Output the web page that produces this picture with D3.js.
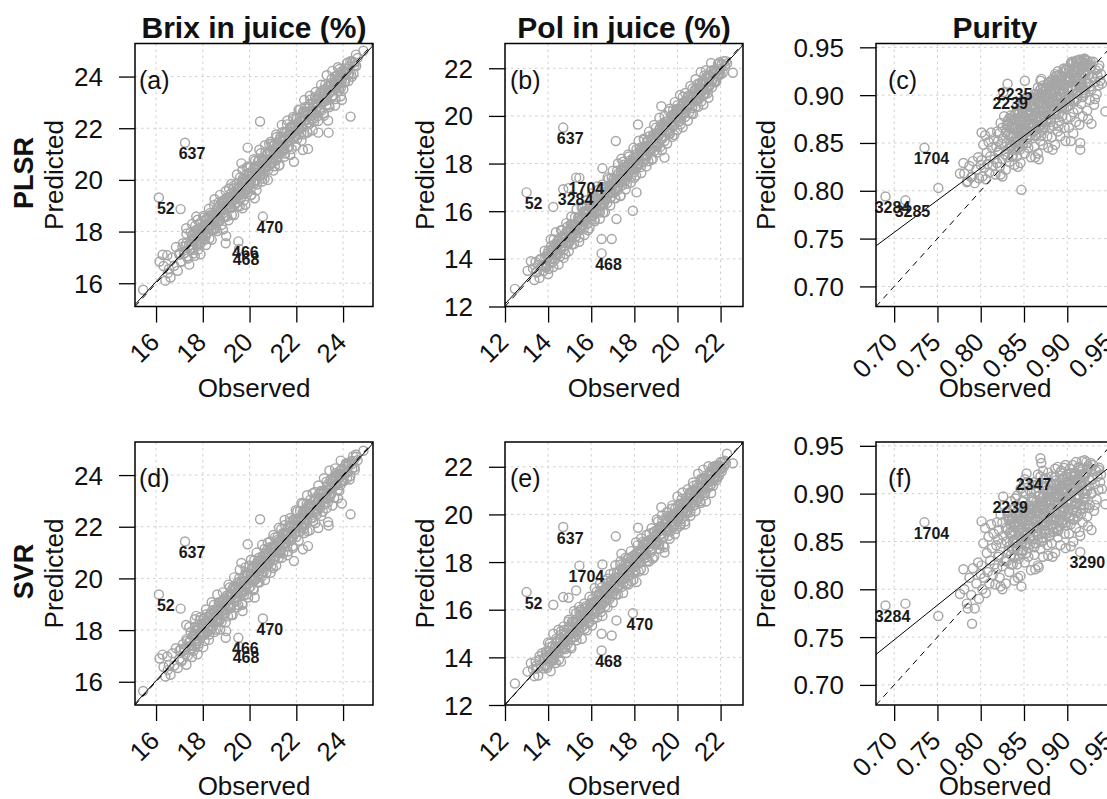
<!DOCTYPE html>
<html>
<head>
<meta charset="utf-8">
<script src="https://cdn.jsdelivr.net/npm/d3@7"></script>
<style>
  body { margin: 0; background: #fff; }
  svg text { font-family: "Liberation Sans", Arial, Helvetica, sans-serif; }
</style>
</head>
<body>
<svg id="fig" width="1107" height="799"></svg>
<script>
// ---------------------------------------------------------------
// Observed vs predicted juice quality, PLSR (top row) and SVR (bottom row)
// ---------------------------------------------------------------

const propertyNames = ["Brix in juice (%)", "Pol in juice (%)", "Purity"];
const modelNames = ["PLSR", "SVR"];
const panelTags = [["(a)", "(b)", "(c)"], ["(d)", "(e)", "(f)"]];

// axis limits and tick values
const brixLimits = [15.1, 25.28];
const polLimits = [12.0, 23.04];
const purityLimits = [0.679, 0.954];
const brixTicks = [16, 18, 20, 22, 24];
const polTicks = [12, 14, 16, 18, 20, 22];
const purityTicks = [0.70, 0.75, 0.80, 0.85, 0.90, 0.95];

// fitted regression lines (intercept, slope) per property: [Brix, Pol, Purity]
const plsrFitIntercepts = [0.30, 0.28, 0.2861];
const plsrFitSlopes = [0.985, 0.985, 0.672];
const svrFitIntercepts = [0.20, 0.08, 0.2389];
const svrFitSlopes = [0.99, 0.995, 0.726];

// ---------------- Brix ----------------
// the first entries are the named samples
const brixIds = ["637", "52", "470", "466", "468"];
const brixShown = ["637", "52", "470", "466", "468"];
const brixObserved = [
  17.24,16.12,20.57,19.52,19.55,
  20.45,19.92,24.32,23.38,22.94,22.28,22.50,23.36,15.45,24.87,20.22,19.70,17.72,17.05,17.29,19.65,16.28,16.50,16.15,19.00,18.98,21.90,23.95,24.55,
  16.32,16.40,16.48,16.55,16.62,16.70,16.78,16.85,16.93,17.00,17.08,17.15,17.22,17.30,17.36,17.42,17.48,17.52,
  17.56,17.60,17.64,17.68,17.72,17.76,17.80,17.84,17.88,17.92,17.96,18.00,18.04,18.08,18.12,18.16,18.20,18.24,18.28,18.32,18.36,18.40,18.44,18.48,18.52,18.56,18.60,18.64,18.68,18.72,18.76,18.80,18.84,18.88,18.92,18.96,
  19.00,19.04,19.08,19.12,19.16,19.20,19.24,19.28,19.32,19.36,
  19.40,19.44,19.48,19.52,19.56,19.60,19.64,19.68,19.72,19.76,
  19.80,19.84,19.88,19.92,19.96,20.00,20.04,20.08,20.12,20.16,
  20.20,20.24,20.28,20.32,20.36,20.40,20.44,20.48,20.52,20.56,
  20.60,20.64,20.68,20.72,20.76,20.80,20.84,20.88,20.92,20.96,
  21.00,21.04,21.08,21.12,21.16,21.20,21.24,21.28,21.32,21.36,
  21.40,21.44,21.48,21.52,21.56,21.60,21.64,21.68,21.72,21.76,
  21.80,21.84,21.88,21.92,21.96,22.00,22.04,22.08,22.12,22.16,
  22.20,22.24,22.28,22.32,22.36,22.40,22.44,22.48,22.52,22.56,
  22.60,22.64,22.68,22.72,22.76,22.80,22.84,22.88,22.92,22.96,
  23.02,23.07,23.13,23.18,23.24,23.29,23.35,23.40,23.46,23.51,23.57,23.62,23.68,23.73,23.79,23.84,23.90,23.95,24.01,24.06,24.12,24.17,24.23,24.28,24.34,24.39,24.45,24.50,24.56,24.62,
  17.53,17.59,17.65,17.71,17.77,17.83,17.89,17.95,18.01,
  18.07,18.13,18.19,18.25,18.31,18.37,18.43,18.49,18.55,
  18.61,18.67,18.73,18.79,18.85,18.91,18.97,19.03,19.09,
  19.15,19.21,19.27,19.33,19.39,19.45,19.51,19.57,19.63,
  19.69,19.75,19.81,19.87,19.93,19.99,20.05,20.11,20.17,
  20.23,20.29,20.35,20.41,20.47,20.53,20.59,20.65,20.71,
  20.77,20.83,20.89,20.95,21.01,21.07,21.13,21.19,21.25,
  21.31,21.37,21.43,21.49,21.55,21.61,21.67,21.73,21.79,
  21.85,21.91,21.97,22.03,22.09,22.15,22.21,22.27,22.33,
  22.39,22.45,22.51,22.57,22.63,22.69,22.75,22.81,22.87,
  22.93,22.99,23.05,23.11,23.17,23.23,23.29,23.35,23.41,
  23.47,23.53,23.59,23.65,23.71,23.77,23.83,23.89,23.95,
  24.01,24.07,24.13,24.19,24.25,24.31,24.37,24.43,24.49,
  17.000,17.065,17.130,17.195,17.260,17.325,17.390,17.455,
  17.520,17.585,17.650,17.715,17.780,17.845,17.910,17.975,
  18.040,18.105,18.170,18.235,18.300,18.365,18.430,18.495,
  18.560,18.625,18.690,18.755,18.820,18.885,18.950,19.015,
  19.080,19.145,19.210,19.275,19.340,19.405,19.470,19.535,
  19.600,19.665,19.730,19.795,19.860,19.925,19.990,20.055,
  20.120,20.185,20.250,20.315,20.380,20.445,20.510,20.575,
  20.640,20.705,20.770,20.835,20.900,20.965,21.030,21.095,
  21.160,21.225,21.290,21.355,21.420,21.485,21.550,21.615,
  21.680,21.745,21.810,21.875,21.940,22.005,22.070,22.135,
  22.200,22.265,22.330,22.395,22.460,22.525,22.590,22.655,
  22.720,22.785,22.850,22.915,22.980,23.045,23.110,23.175,
  23.240,23.305,23.370,23.435,23.500,23.565,23.630,23.695,
  23.760,23.825,23.890,23.955,24.020,24.085,24.150,24.215,
  17.30,17.42,17.54,17.66,17.78,17.90,18.02,18.14,
  18.26,18.38,18.50,18.62,18.74,18.86,18.98,19.10,
  19.22,19.34,19.46,19.58,19.70,19.82,19.94,20.06,
  20.18,20.30,20.42,20.54,20.66,20.78,20.90,21.02,
  21.14,21.26,21.38,21.50,21.62,21.74,21.86,21.98,
  22.10,22.22,22.34,22.46,22.58,22.70,22.82,22.94,
  23.06,23.18,23.30,23.42,23.54,23.66,23.78,23.90
];
const brixPlsr = [
  21.44,19.32,18.58,17.62,17.33,
  22.26,21.25,22.45,21.83,21.83,21.16,21.20,22.30,15.75,25.00,19.29,18.90,18.58,18.87,18.13,20.64,17.10,16.39,16.84,17.83,17.55,20.70,23.10,24.85,
  16.67,16.10,17.08,16.55,16.22,17.00,16.68,17.40,16.48,17.15,16.83,17.55,17.17,17.55,16.96,17.47,17.98,17.32,
  17.86,17.15,17.69,18.23,17.52,18.01,17.30,17.94,18.33,17.62,18.16,17.95,18.54,17.68,18.27,18.51,17.95,18.24,17.73,18.72,18.26,18.65,18.09,19.03,18.57,18.11,18.90,18.49,19.13,18.42,18.86,18.25,19.19,18.83,19.12,18.56,
  19.30,18.59,19.13,19.67,18.96,19.45,18.64,19.38,19.77,19.06,
  19.35,19.84,18.98,19.72,19.41,20.10,19.29,19.68,20.07,19.21,
  19.95,19.59,20.48,19.52,20.26,19.90,20.49,19.43,20.17,20.41,
  19.85,20.74,20.23,19.82,20.71,20.50,20.19,21.03,20.07,20.76,
  20.60,20.04,21.08,20.57,21.01,20.40,21.39,20.83,20.62,21.41,
  20.80,21.34,20.53,21.27,21.66,20.85,21.29,20.58,21.67,21.26,
  21.85,21.14,21.58,21.02,21.81,22.15,21.49,21.28,21.72,22.06,
  21.20,22.04,22.38,21.67,21.91,22.40,21.59,22.23,21.77,22.71,
  22.25,22.04,22.63,21.77,22.81,22.30,22.64,21.83,22.82,22.16,
  23.10,22.34,22.68,22.97,22.26,23.20,22.69,22.98,22.47,23.26,
  23.37,22.67,23.23,22.58,23.69,23.14,23.60,22.90,23.46,23.91,23.27,23.77,23.13,24.03,23.69,24.29,23.55,24.00,23.51,24.31,23.92,24.52,23.83,24.38,24.09,24.59,24.10,24.55,24.41,24.72,
  17.73,17.29,17.70,18.06,17.62,18.11,17.51,18.07,17.96,
  18.27,17.83,18.24,18.60,18.16,18.65,18.05,18.61,18.50,
  18.81,18.37,18.78,19.14,18.70,19.19,18.59,19.15,19.04,
  19.35,18.91,19.32,19.68,19.24,19.73,19.13,19.69,19.58,
  19.89,19.45,19.86,20.22,19.78,20.27,19.67,20.23,20.12,
  20.43,19.99,20.40,20.76,20.32,20.81,20.21,20.77,20.66,
  20.97,20.53,20.94,21.30,20.86,21.35,20.75,21.31,21.20,
  21.51,21.07,21.48,21.84,21.40,21.89,21.29,21.85,21.74,
  22.05,21.61,22.02,22.38,21.94,22.43,21.83,22.39,22.28,
  22.59,22.15,22.56,22.92,22.48,22.97,22.37,22.93,22.82,
  23.13,22.69,23.10,23.46,23.02,23.51,22.91,23.47,23.36,
  23.67,23.23,23.64,24.00,23.56,24.05,23.45,24.01,23.90,
  24.21,23.77,24.18,24.54,24.10,24.59,23.99,24.55,24.44,
  17.100,16.845,17.410,17.145,17.440,17.025,17.410,17.315,
  17.620,17.365,17.930,17.665,17.960,17.545,17.930,17.835,
  18.140,17.885,18.450,18.185,18.480,18.065,18.450,18.355,
  18.660,18.405,18.970,18.705,19.000,18.585,18.970,18.875,
  19.180,18.925,19.490,19.225,19.520,19.105,19.490,19.395,
  19.700,19.445,20.010,19.745,20.040,19.625,20.010,19.915,
  20.220,19.965,20.530,20.265,20.560,20.145,20.530,20.435,
  20.740,20.485,21.050,20.785,21.080,20.665,21.050,20.955,
  21.260,21.005,21.570,21.305,21.600,21.185,21.570,21.475,
  21.780,21.525,22.090,21.825,22.120,21.705,22.090,21.995,
  22.300,22.045,22.610,22.345,22.640,22.225,22.610,22.515,
  22.820,22.565,23.130,22.865,23.160,22.745,23.130,23.035,
  23.340,23.085,23.650,23.385,23.680,23.265,23.650,23.555,
  23.860,23.605,24.170,23.905,24.200,23.785,24.170,24.075,
  17.92,16.72,18.29,17.06,18.46,17.12,18.60,17.48,
  18.88,17.68,19.25,18.02,19.42,18.08,19.56,18.44,
  19.84,18.64,20.21,18.98,20.38,19.04,20.52,19.40,
  20.80,19.60,21.17,19.94,21.34,20.00,21.48,20.36,
  21.76,20.56,22.13,20.90,22.30,20.96,22.44,21.32,
  22.72,21.52,23.09,21.86,23.26,21.92,23.40,22.28,
  23.68,22.48,24.05,22.82,24.22,22.88,24.36,23.24
];
const brixSvr = [
  21.43,19.38,18.45,17.70,17.36,
  22.29,21.32,22.48,22.05,21.95,21.13,21.25,22.18,15.64,24.94,19.26,18.74,18.55,18.83,18.20,20.60,17.05,16.45,16.90,17.96,17.70,20.67,22.90,24.80,
  16.57,16.20,16.98,16.65,16.27,17.10,16.63,17.30,16.53,17.20,16.78,17.45,17.22,17.65,17.01,17.52,17.93,17.27,
  17.76,17.20,17.79,18.13,17.47,18.11,17.35,17.84,18.38,17.72,18.21,17.90,18.44,17.58,18.32,18.61,18.05,18.29,17.83,18.62,18.16,18.75,18.14,18.98,18.52,18.01,18.80,18.59,19.08,18.37,18.91,18.30,19.14,18.78,19.22,18.66,
  18.80,19.34,18.53,19.27,19.66,18.85,19.29,18.58,19.67,19.26,
  19.45,19.24,19.83,18.97,20.01,19.50,19.84,19.03,20.02,19.36,
  19.75,20.24,19.38,20.12,19.81,20.50,19.69,20.08,20.47,19.61,
  20.70,19.94,20.28,20.57,19.86,20.80,20.29,20.58,20.07,20.86,
  20.25,21.14,20.63,20.22,21.11,20.90,20.59,21.43,20.47,21.16,
  20.40,21.24,21.58,20.87,21.11,21.60,20.79,21.43,20.97,21.91,
  21.70,20.99,21.53,22.07,21.36,21.85,21.04,21.78,22.17,21.46,
  21.80,21.24,22.28,21.77,22.21,21.60,22.59,22.03,21.82,22.61,
  22.35,21.99,22.88,21.92,22.66,22.30,22.89,21.83,22.57,22.81,
  23.05,22.34,22.78,22.22,23.01,23.35,22.69,22.48,22.92,23.26,
  22.72,23.37,22.58,23.33,23.14,23.74,22.95,23.45,23.81,23.31,23.77,23.12,24.08,23.68,24.04,23.39,24.00,24.25,23.76,24.01,24.42,23.87,24.38,23.83,24.54,24.24,24.55,24.20,24.71,24.57,
  17.28,17.74,17.98,17.63,17.99,17.48,17.94,18.25,17.83,
  17.82,18.28,18.52,18.17,18.53,18.02,18.48,18.79,18.37,
  18.36,18.82,19.06,18.71,19.07,18.56,19.02,19.33,18.91,
  18.90,19.36,19.60,19.25,19.61,19.10,19.56,19.87,19.45,
  19.44,19.90,20.14,19.79,20.15,19.64,20.10,20.41,19.99,
  19.98,20.44,20.68,20.33,20.69,20.18,20.64,20.95,20.53,
  20.52,20.98,21.22,20.87,21.23,20.72,21.18,21.49,21.07,
  21.06,21.52,21.76,21.41,21.77,21.26,21.72,22.03,21.61,
  21.60,22.06,22.30,21.95,22.31,21.80,22.26,22.57,22.15,
  22.14,22.60,22.84,22.49,22.85,22.34,22.80,23.11,22.69,
  22.68,23.14,23.38,23.03,23.39,22.88,23.34,23.65,23.23,
  23.22,23.68,23.92,23.57,23.93,23.42,23.88,24.19,23.77,
  23.76,24.22,24.46,24.11,24.47,23.96,24.42,24.73,24.30,
  16.880,17.265,16.850,17.255,17.060,17.585,17.370,17.585,
  17.400,17.785,17.370,17.775,17.580,18.105,17.890,18.105,
  17.920,18.305,17.890,18.295,18.100,18.625,18.410,18.625,
  18.440,18.825,18.410,18.815,18.620,19.145,18.930,19.145,
  18.960,19.345,18.930,19.335,19.140,19.665,19.450,19.665,
  19.480,19.865,19.450,19.855,19.660,20.185,19.970,20.185,
  20.000,20.385,19.970,20.375,20.180,20.705,20.490,20.705,
  20.520,20.905,20.490,20.895,20.700,21.225,21.010,21.225,
  21.040,21.425,21.010,21.415,21.220,21.745,21.530,21.745,
  21.560,21.945,21.530,21.935,21.740,22.265,22.050,22.265,
  22.080,22.465,22.050,22.455,22.260,22.785,22.570,22.785,
  22.600,22.985,22.570,22.975,22.780,23.305,23.090,23.305,
  23.120,23.505,23.090,23.495,23.300,23.825,23.610,23.825,
  23.640,24.025,23.610,24.015,23.820,24.345,24.130,24.345,
  16.66,18.12,16.96,18.42,17.06,18.50,17.34,18.80,
  17.62,19.08,17.92,19.38,18.02,19.46,18.30,19.76,
  18.58,20.04,18.88,20.34,18.98,20.42,19.26,20.72,
  19.54,21.00,19.84,21.30,19.94,21.38,20.22,21.68,
  20.50,21.96,20.80,22.26,20.90,22.34,21.18,22.64,
  21.46,22.92,21.76,23.22,21.86,23.30,22.14,23.60,
  22.42,23.88,22.72,24.18,22.82,24.26,23.10,24.56
];

// ---------------- Pol ----------------
const polIds = ["637", "52", "1704", "3284", "468", "470"];
const polPlsrShown = ["637", "52", "1704", "3284", "468"];
const polSvrShown = ["637", "52", "1704", "470", "468"];
const polObserved = [
  14.70,13.00,15.45,14.95,16.48,17.93,
  14.24,14.70,15.30,16.48,16.95,17.17,18.10,16.52,17.40,17.14,18.17,19.25,22.57,22.30,12.46,13.05,13.20,13.45,13.60,19.40,
  13.30,13.36,13.42,13.48,13.54,13.60,13.66,13.72,13.78,13.84,13.90,13.96,14.02,14.08,14.14,14.20,14.26,14.32,14.38,14.44,
  14.50,14.55,14.60,14.65,14.70,14.75,14.80,14.85,14.90,14.95,
  15.00,15.05,15.10,15.15,15.20,15.25,15.30,15.35,15.40,15.45,
  15.50,15.55,15.60,15.65,15.70,15.75,15.80,15.85,15.90,15.95,
  16.00,16.05,16.10,16.15,16.20,16.25,16.30,16.35,16.40,16.45,
  16.50,16.55,16.60,16.65,16.70,16.75,16.80,16.85,16.90,16.95,
  17.00,17.05,17.10,17.15,17.20,17.25,17.30,17.35,17.40,17.45,
  17.50,17.55,17.60,17.65,17.70,17.75,17.80,17.85,17.90,17.95,
  18.00,18.05,18.10,18.15,18.20,18.25,18.30,18.35,18.40,18.45,
  18.50,18.55,18.60,18.65,18.70,18.75,18.80,18.85,18.90,18.95,
  19.00,19.05,19.10,19.15,19.20,19.25,19.30,19.35,19.40,19.45,
  19.50,19.55,19.60,19.65,19.70,19.75,19.80,19.85,19.90,19.95,
  20.00,20.05,20.10,20.15,20.20,20.25,20.30,20.35,20.40,20.45,
  20.50,20.55,20.60,20.65,20.70,20.75,20.80,20.85,20.90,20.95,21.00,21.05,21.10,21.15,21.20,21.25,21.30,21.35,21.40,21.45,21.50,21.55,21.60,21.65,21.70,21.75,21.80,21.85,21.90,21.95,22.00,22.05,22.10,22.15,22.20,22.25,
  13.90,13.96,14.02,14.08,14.14,14.20,14.26,14.32,14.38,
  14.44,14.50,14.56,14.62,14.68,14.74,14.80,14.86,14.92,
  14.98,15.04,15.10,15.16,15.22,15.28,15.34,15.40,15.46,
  15.52,15.58,15.64,15.70,15.76,15.82,15.88,15.94,16.00,
  16.06,16.12,16.18,16.24,16.30,16.36,16.42,16.48,16.54,
  16.60,16.66,16.72,16.78,16.84,16.90,16.96,17.02,17.08,
  17.14,17.20,17.26,17.32,17.38,17.44,17.50,17.56,17.62,
  17.68,17.74,17.80,17.86,17.92,17.98,18.04,18.10,18.16,
  18.22,18.28,18.34,18.40,18.46,18.52,18.58,18.64,18.70,
  18.76,18.82,18.88,18.94,19.00,19.06,19.12,19.18,19.24,
  19.30,19.36,19.42,19.48,19.54,19.60,19.66,19.72,19.78,
  19.84,19.90,19.96,20.02,20.08,20.14,20.20,20.26,20.32,
  20.38,20.44,20.50,20.56,20.62,20.68,20.74,20.80,20.86,
  20.92,20.98,21.04,21.10,21.16,21.22,21.28,21.34,21.40,
  21.46,21.52,21.58,21.64,21.70,21.76,21.82,21.88,21.94,
  13.800,13.865,13.930,13.995,14.060,14.125,14.190,14.255,
  14.320,14.385,14.450,14.515,14.580,14.645,14.710,14.775,
  14.840,14.905,14.970,15.035,15.100,15.165,15.230,15.295,
  15.360,15.425,15.490,15.555,15.620,15.685,15.750,15.815,
  15.880,15.945,16.010,16.075,16.140,16.205,16.270,16.335,
  16.400,16.465,16.530,16.595,16.660,16.725,16.790,16.855,
  16.920,16.985,17.050,17.115,17.180,17.245,17.310,17.375,
  17.440,17.505,17.570,17.635,17.700,17.765,17.830,17.895,
  17.960,18.025,18.090,18.155,18.220,18.285,18.350,18.415,
  18.480,18.545,18.610,18.675,18.740,18.805,18.870,18.935,
  19.000,19.065,19.130,19.195,19.260,19.325,19.390,19.455,
  19.520,19.585,19.650,19.715,19.780,19.845,19.910,19.975,
  20.040,20.105,20.170,20.235,20.300,20.365,20.430,20.495,
  20.560,20.625,20.690,20.755,20.820,20.885,20.950,21.015,
  21.080,21.145,21.210,21.275,21.340,21.405,21.470,21.535,
  21.600,21.665,21.730,21.795,21.860,21.925,21.990,22.055,
  14.00,14.12,14.24,14.36,14.48,14.60,14.72,14.84,
  14.96,15.08,15.20,15.32,15.44,15.56,15.68,15.80,
  15.92,16.04,16.16,16.28,16.40,16.52,16.64,16.76,
  16.88,17.00,17.12,17.24,17.36,17.48,17.60,17.72,
  17.84,17.96,18.08,18.20,18.32,18.44,18.56,18.68,
  18.80,18.92,19.04,19.16,19.28,19.40,19.52,19.64,
  19.76,19.88,20.00,20.12,20.24,20.36,20.48,20.60,
  20.72,20.84,20.96,21.08,21.20,21.32,21.44,21.56
];
const polPlsr = [
  19.51,16.79,17.40,16.97,14.23,16.02,
  16.18,16.92,17.41,14.83,14.83,15.67,16.79,17.80,18.20,18.95,19.64,20.41,21.81,22.20,12.74,13.50,13.90,13.45,13.95,18.25,
  13.60,13.11,13.87,13.43,13.74,13.20,14.01,13.72,13.48,14.34,13.75,14.21,13.57,14.18,14.54,14.00,14.81,13.97,14.43,14.74,
  14.80,14.10,14.65,15.20,14.50,15.00,14.20,14.95,15.35,14.65,
  14.95,15.45,14.60,15.35,15.05,15.75,14.95,15.35,15.75,14.90,
  15.65,15.30,16.20,15.25,16.00,15.65,16.25,15.20,15.95,16.20,
  15.65,16.55,16.05,15.65,16.55,16.35,16.05,16.90,15.95,16.65,
  16.50,15.95,17.00,16.50,16.95,16.35,17.35,16.80,16.60,17.40,
  16.80,17.35,16.55,17.30,17.70,16.90,17.35,16.65,17.75,17.35,
  17.95,17.25,17.70,17.15,17.95,18.30,17.65,17.45,17.90,18.25,
  17.40,18.25,18.60,17.90,18.15,18.65,17.85,18.50,18.05,19.00,
  18.55,18.35,18.95,18.10,19.15,18.65,19.00,18.20,19.20,18.55,
  19.50,18.75,19.10,19.40,18.70,19.65,19.15,19.45,18.95,19.75,
  19.65,19.30,20.20,19.25,20.00,19.65,20.25,19.20,19.95,20.20,
  20.45,19.75,20.20,19.65,20.45,20.80,20.15,19.95,20.40,20.75,
  20.85,20.15,20.70,20.10,21.15,20.60,21.05,20.40,20.90,21.35,20.70,21.20,20.60,21.45,21.10,21.70,20.95,21.40,20.95,21.70,21.30,21.90,21.20,21.75,21.45,21.95,21.45,21.90,21.75,22.25,21.75,22.15,21.80,22.30,22.10,22.30,
  13.65,14.11,14.35,14.00,14.36,13.85,14.31,14.62,14.20,
  14.19,14.65,14.89,14.54,14.90,14.39,14.85,15.16,14.74,
  14.73,15.19,15.43,15.08,15.44,14.93,15.39,15.70,15.28,
  15.27,15.73,15.97,15.62,15.98,15.47,15.93,16.24,15.82,
  15.81,16.27,16.51,16.16,16.52,16.01,16.47,16.78,16.36,
  16.35,16.81,17.05,16.70,17.06,16.55,17.01,17.32,16.90,
  16.89,17.35,17.59,17.24,17.60,17.09,17.55,17.86,17.44,
  17.43,17.89,18.13,17.78,18.14,17.63,18.09,18.40,17.98,
  17.97,18.43,18.67,18.32,18.68,18.17,18.63,18.94,18.52,
  18.51,18.97,19.21,18.86,19.22,18.71,19.17,19.48,19.06,
  19.05,19.51,19.75,19.40,19.76,19.25,19.71,20.02,19.60,
  19.59,20.05,20.29,19.94,20.30,19.79,20.25,20.56,20.14,
  20.13,20.59,20.83,20.48,20.84,20.33,20.79,21.10,20.68,
  20.67,21.13,21.37,21.02,21.38,20.87,21.33,21.64,21.22,
  21.21,21.67,21.91,21.56,21.92,21.41,21.87,22.18,21.76,
  13.680,14.065,13.650,14.055,13.860,14.385,14.170,14.385,
  14.200,14.585,14.170,14.575,14.380,14.905,14.690,14.905,
  14.720,15.105,14.690,15.095,14.900,15.425,15.210,15.425,
  15.240,15.625,15.210,15.615,15.420,15.945,15.730,15.945,
  15.760,16.145,15.730,16.135,15.940,16.465,16.250,16.465,
  16.280,16.665,16.250,16.655,16.460,16.985,16.770,16.985,
  16.800,17.185,16.770,17.175,16.980,17.505,17.290,17.505,
  17.320,17.705,17.290,17.695,17.500,18.025,17.810,18.025,
  17.840,18.225,17.810,18.215,18.020,18.545,18.330,18.545,
  18.360,18.745,18.330,18.735,18.540,19.065,18.850,19.065,
  18.880,19.265,18.850,19.255,19.060,19.585,19.370,19.585,
  19.400,19.785,19.370,19.775,19.580,20.105,19.890,20.105,
  19.920,20.305,19.890,20.295,20.100,20.625,20.410,20.625,
  20.440,20.825,20.410,20.815,20.620,21.145,20.930,21.145,
  20.960,21.345,20.930,21.335,21.140,21.665,21.450,21.665,
  21.480,21.865,21.450,21.855,21.660,22.185,21.970,22.185,
  13.36,14.82,13.66,15.12,13.76,15.20,14.04,15.50,
  14.32,15.78,14.62,16.08,14.72,16.16,15.00,16.46,
  15.28,16.74,15.58,17.04,15.68,17.12,15.96,17.42,
  16.24,17.70,16.54,18.00,16.64,18.08,16.92,18.38,
  17.20,18.66,17.50,18.96,17.60,19.04,17.88,19.34,
  18.16,19.62,18.46,19.92,18.56,20.00,18.84,20.30,
  19.12,20.58,19.42,20.88,19.52,20.96,19.80,21.26,
  20.08,21.54,20.38,21.84,20.48,21.92,20.76,22.22
];
const polSvr = [
  19.47,16.74,17.85,16.50,14.29,15.85,
  16.21,16.53,16.81,14.99,14.92,15.55,17.16,17.90,18.35,19.08,19.44,20.30,22.15,22.55,12.90,13.40,13.75,13.65,14.05,18.40,
  13.50,13.21,13.82,13.53,13.24,13.90,13.61,14.17,13.53,13.99,14.25,13.56,14.02,14.58,13.94,14.45,13.91,14.42,14.78,14.34,
  13.90,14.75,15.10,14.40,14.65,15.15,14.35,15.00,14.55,15.50,
  15.00,14.45,15.50,15.00,15.45,14.85,15.85,15.30,15.10,15.90,
  16.00,15.25,15.60,15.90,15.20,16.15,15.65,15.95,15.45,16.25,
  15.95,16.45,15.60,16.35,16.05,16.75,15.95,16.35,16.75,15.90,
  16.95,16.25,16.70,16.15,16.95,17.30,16.65,16.45,16.90,17.25,
  16.65,17.55,17.05,16.65,17.55,17.35,17.05,17.90,16.95,17.65,
  17.55,17.35,17.95,17.10,18.15,17.65,18.00,17.20,18.20,17.55,
  18.30,17.60,18.15,18.70,18.00,18.50,17.70,18.45,18.85,18.15,
  18.30,18.85,18.05,18.80,19.20,18.40,18.85,18.15,19.25,18.85,
  19.15,18.80,19.70,18.75,19.50,19.15,19.75,18.70,19.45,19.70,
  19.45,19.95,19.10,19.85,19.55,20.25,19.45,19.85,20.25,19.40,
  20.05,19.85,20.45,19.60,20.65,20.15,20.50,19.70,20.70,20.05,
  20.20,20.85,20.10,20.80,20.60,21.20,20.40,20.90,21.25,20.75,21.20,20.55,21.50,21.10,21.45,20.80,21.40,21.65,21.15,21.40,21.80,21.25,21.75,21.20,21.90,21.60,21.90,21.55,22.05,21.90,22.20,21.80,22.20,22.00,22.25,22.15,
  14.10,13.66,14.07,14.43,13.99,14.48,13.88,14.44,14.33,
  14.64,14.20,14.61,14.97,14.53,15.02,14.42,14.98,14.87,
  15.18,14.74,15.15,15.51,15.07,15.56,14.96,15.52,15.41,
  15.72,15.28,15.69,16.05,15.61,16.10,15.50,16.06,15.95,
  16.26,15.82,16.23,16.59,16.15,16.64,16.04,16.60,16.49,
  16.80,16.36,16.77,17.13,16.69,17.18,16.58,17.14,17.03,
  17.34,16.90,17.31,17.67,17.23,17.72,17.12,17.68,17.57,
  17.88,17.44,17.85,18.21,17.77,18.26,17.66,18.22,18.11,
  18.42,17.98,18.39,18.75,18.31,18.80,18.20,18.76,18.65,
  18.96,18.52,18.93,19.29,18.85,19.34,18.74,19.30,19.19,
  19.50,19.06,19.47,19.83,19.39,19.88,19.28,19.84,19.73,
  20.04,19.60,20.01,20.37,19.93,20.42,19.82,20.38,20.27,
  20.58,20.14,20.55,20.91,20.47,20.96,20.36,20.92,20.81,
  21.12,20.68,21.09,21.45,21.01,21.50,20.90,21.46,21.35,
  21.66,21.22,21.63,21.99,21.55,22.04,21.44,22.00,21.89,
  13.900,13.645,14.210,13.945,14.240,13.825,14.210,14.115,
  14.420,14.165,14.730,14.465,14.760,14.345,14.730,14.635,
  14.940,14.685,15.250,14.985,15.280,14.865,15.250,15.155,
  15.460,15.205,15.770,15.505,15.800,15.385,15.770,15.675,
  15.980,15.725,16.290,16.025,16.320,15.905,16.290,16.195,
  16.500,16.245,16.810,16.545,16.840,16.425,16.810,16.715,
  17.020,16.765,17.330,17.065,17.360,16.945,17.330,17.235,
  17.540,17.285,17.850,17.585,17.880,17.465,17.850,17.755,
  18.060,17.805,18.370,18.105,18.400,17.985,18.370,18.275,
  18.580,18.325,18.890,18.625,18.920,18.505,18.890,18.795,
  19.100,18.845,19.410,19.145,19.440,19.025,19.410,19.315,
  19.620,19.365,19.930,19.665,19.960,19.545,19.930,19.835,
  20.140,19.885,20.450,20.185,20.480,20.065,20.450,20.355,
  20.660,20.405,20.970,20.705,21.000,20.585,20.970,20.875,
  21.180,20.925,21.490,21.225,21.520,21.105,21.490,21.395,
  21.700,21.445,22.010,21.745,22.040,21.625,22.010,21.915,
  14.62,13.42,14.99,13.76,15.16,13.82,15.30,14.18,
  15.58,14.38,15.95,14.72,16.12,14.78,16.26,15.14,
  16.54,15.34,16.91,15.68,17.08,15.74,17.22,16.10,
  17.50,16.30,17.87,16.64,18.04,16.70,18.18,17.06,
  18.46,17.26,18.83,17.60,19.00,17.66,19.14,18.02,
  19.42,18.22,19.79,18.56,19.96,18.62,20.10,18.98,
  20.38,19.18,20.75,19.52,20.92,19.58,21.06,19.94,
  21.34,20.14,21.71,20.48,21.88,20.54,22.02,20.90
];

// ---------------- Purity ----------------
const purityIds = ["1704", "2235", "2239", "2347", "3284", "3285", "3290"];
const purityPlsrShown = ["2235", "2239", "1704", "3284", "3285"];
const puritySvrShown = ["2347", "2239", "1704", "3284", "3290"];
const purityObserved = [
  .735,.831,.826,.853,.690,.713,.915,
  .751,.801,.780,.847,.915,.944,.869,.870,.851,.790,.825,.867,.776,.785,
  .781,.784,.787,.789,.791,.793,.795,.797,.798,.800,
  .801,.802,.803,.804,.805,.806,.807,.808,.809,.810,.811,.812,.813,.814,.815,.816,.817,.818,.819,.819,.820,.820,
  .821,.821,.822,.823,.824,.825,.825,.826,.827,.828,.829,.829,.830,.831,.832,.833,.833,.834,.835,.836,.836,.837,.838,.838,.839,.839,.840,.840,.823,.831,
  .841,.841,.842,.842,.843,.844,.844,.845,.846,.846,.847,.848,.848,.849,.850,.850,.851,.851,.852,.853,.853,.854,.855,.855,.856,.857,.857,.858,.858,.859,.860,.860,.843,.847,.852,.856,.849,.854,
  .861,.861,.862,.862,.863,.864,.864,.865,.866,.866,.867,.867,.868,.869,.869,.870,.871,.871,.872,.872,.873,.874,.874,.875,.876,.876,.877,.877,.878,.879,.879,.880,.880,.863,.865,.868,.870,.873,.875,.878,.866,.871,
  .881,.881,.882,.882,.883,.884,.884,.885,.886,.886,.887,.887,.888,.889,.889,.890,.891,.891,.892,.892,.893,.894,.894,.895,.896,.896,.897,.897,.898,.899,.899,.900,.900,.883,.885,.888,.890,.893,.895,.898,.886,.891,
  .901,.901,.902,.903,.903,.904,.905,.906,.906,.907,.908,.908,.909,.910,.910,.911,.912,.912,.913,.914,.914,.915,.916,.916,.917,.918,.918,.919,.920,.920,.904,.907,.911,.915,.909,.917,
  .921,.922,.923,.924,.925,.926,.927,.928,.929,.930,.931,.932,.933,.934,.935,.936,.937,.938,.939,.940,.924,.928,.932,.936,
  .830,.831,.832,.833,.834,.835,.836,.837,.838,
  .839,.840,.841,.842,.843,.844,.845,.846,.847,
  .848,.849,.850,.851,.852,.853,.854,.855,.856,
  .857,.858,.859,.860,.861,.862,.863,.864,.865,
  .866,.867,.868,.869,.870,.871,.872,.873,.874,
  .875,.876,.877,.878,.879,.880,.881,.882,.883,
  .884,.885,.886,.887,.888,.889,.890,.891,.892,
  .893,.894,.895,.896,.897,.898,.899,.900,.901,
  .902,.903,.904,.905,.906,.907,.908,.909,.910,
  .911,.912,.913,.914,.915,.916,.917,.918,.919,
  .920,.921,.922,.923,.924,.925,.926,.927,.928,
  .834,.835,.836,.837,.838,.839,.840,.841,
  .842,.843,.844,.845,.846,.847,.848,.849,
  .850,.851,.852,.853,.854,.855,.856,.857,
  .858,.859,.860,.861,.862,.863,.864,.865,
  .866,.867,.868,.869,.870,.871,.872,.873,
  .874,.875,.876,.877,.878,.879,.880,.881,
  .882,.883,.884,.885,.886,.887,.888,.889,
  .890,.891,.892,.893,.894,.895,.896,.897,
  .898,.899,.900,.901,.902,.903,.904,.905,
  .906,.907,.908,.909,.910,.911,.912,.913,
  .914,.915,.916,.917,.918,.919,.920,.921
];
const purityPlsr = [
  .845,.912,.903,.895,.794,.790,.850,
  .803,.861,.829,.801,.843,.883,.915,.917,.915,.815,.815,.833,.818,.810,
  .818,.809,.826,.814,.831,.808,.822,.835,.813,.827,
  .832,.815,.848,.824,.858,.812,.840,.828,.851,.819,.836,.861,.845,.826,.854,.833,.817,.846,.862,.829,.840,.852,
  .842,.860,.825,.871,.849,.833,.866,.855,.878,.838,.861,.822,.850,.873,.844,.866,.830,.857,.879,.846,.868,.836,.859,.874,.851,.827,.865,.880,.817,.869,
  .851,.874,.836,.889,.862,.845,.880,.868,.893,.829,.857,.884,.871,.848,.896,.863,.839,.877,.889,.854,.872,.898,.845,.882,.866,.893,.858,.876,.835,.887,.869,.897,.825,.866,.861,.880,.892,.875,
  .862,.889,.846,.901,.874,.857,.895,.881,.908,.839,.868,.898,.885,.852,.906,.876,.863,.892,.910,.848,.883,.899,.866,.889,.905,.873,.857,.895,.911,.880,.866,.902,.892,.835,.869,.893,.858,.904,.878,.845,.900,.884,
  .875,.902,.856,.916,.888,.868,.910,.894,.922,.848,.880,.913,.899,.862,.925,.890,.873,.906,.919,.857,.896,.914,.878,.903,.924,.886,.866,.910,.926,.893,.876,.917,.905,.843,.884,.908,.868,.920,.892,.852,.915,.898,
  .888,.915,.866,.928,.899,.877,.921,.906,.933,.860,.893,.925,.910,.872,.936,.902,.885,.918,.930,.869,.908,.927,.891,.914,.935,.898,.878,.922,.937,.905,.852,.882,.896,.918,.926,.912,
  .902,.925,.884,.932,.912,.895,.928,.906,.919,.935,.890,.914,.926,.901,.920,.910,.931,.915,.922,.912,.875,.870,.896,.928,
  .868,.835,.858,.876,.847,.868,.836,.865,.856,
  .875,.843,.866,.884,.854,.875,.843,.873,.864,
  .882,.850,.873,.891,.862,.883,.850,.880,.871,
  .890,.858,.880,.898,.869,.890,.858,.887,.878,
  .897,.865,.888,.906,.876,.897,.865,.895,.886,
  .905,.872,.895,.913,.884,.905,.872,.902,.893,
  .912,.880,.903,.920,.891,.912,.880,.910,.901,
  .919,.887,.910,.928,.899,.919,.887,.917,.908,
  .927,.894,.917,.935,.906,.927,.895,.924,.915,
  .934,.902,.925,.937,.913,.934,.902,.932,.923,
  .938,.909,.932,.936,.921,.934,.909,.935,.930,
  .846,.875,.856,.870,.843,.866,.881,.856,
  .852,.881,.862,.877,.850,.873,.887,.862,
  .859,.888,.869,.884,.856,.879,.894,.869,
  .866,.894,.875,.890,.863,.886,.901,.875,
  .872,.901,.882,.897,.869,.892,.907,.882,
  .879,.908,.888,.903,.876,.899,.914,.888,
  .885,.914,.895,.910,.883,.905,.920,.895,
  .892,.921,.901,.916,.889,.912,.927,.902,
  .898,.927,.908,.923,.896,.919,.933,.908,
  .905,.934,.915,.929,.902,.925,.936,.915,
  .912,.937,.921,.936,.909,.932,.938,.921
];
const puritySvr = [
  .870,.880,.897,.921,.783,.785,.839,
  .772,.871,.821,.803,.856,.889,.937,.932,.915,.764,.800,.823,.795,.780,
  .800,.785,.812,.794,.822,.780,.806,.828,.790,.816,
  .825,.800,.848,.812,.864,.796,.838,.818,.855,.806,.830,.868,.843,.815,.858,.826,.805,.846,.870,.822,.834,.852,
  .836,.862,.812,.878,.848,.824,.870,.856,.888,.830,.864,.806,.850,.882,.840,.872,.818,.858,.892,.843,.874,.826,.861,.884,.851,.809,.868,.895,.803,.877,
  .845,.876,.826,.898,.862,.836,.886,.868,.905,.814,.852,.892,.874,.840,.910,.860,.828,.880,.900,.848,.872,.912,.834,.888,.864,.903,.854,.878,.820,.896,.868,.909,.812,.864,.858,.884,.902,.876,
  .856,.892,.836,.912,.872,.848,.902,.882,.920,.825,.864,.906,.886,.842,.918,.874,.854,.896,.924,.834,.884,.908,.860,.892,.916,.870,.846,.900,.922,.880,.862,.912,.894,.821,.866,.898,.850,.915,.876,.835,.910,.888,
  .868,.900,.848,.918,.884,.860,.910,.892,.926,.838,.874,.914,.898,.854,.928,.888,.866,.906,.922,.846,.894,.916,.872,.902,.927,.882,.858,.912,.930,.890,.870,.920,.904,.834,.880,.910,.862,.924,.890,.843,.918,.898,
  .880,.912,.858,.926,.894,.868,.918,.902,.930,.850,.886,.922,.906,.864,.933,.898,.876,.915,.928,.860,.904,.925,.884,.910,.934,.892,.870,.920,.935,.900,.845,.874,.890,.912,.922,.908,
  .896,.922,.876,.929,.908,.888,.925,.900,.915,.930,.882,.910,.924,.894,.918,.904,.927,.912,.920,.905,.866,.862,.888,.925,
  .829,.862,.874,.845,.868,.826,.856,.874,.842,
  .835,.868,.880,.851,.874,.832,.862,.880,.848,
  .841,.873,.886,.857,.879,.838,.868,.885,.854,
  .847,.879,.892,.863,.885,.844,.874,.891,.860,
  .852,.885,.898,.868,.891,.850,.879,.897,.866,
  .858,.891,.904,.874,.897,.856,.885,.903,.872,
  .864,.897,.909,.880,.903,.861,.891,.909,.877,
  .870,.903,.915,.886,.909,.867,.897,.915,.883,
  .876,.909,.921,.892,.914,.873,.903,.920,.889,
  .882,.914,.927,.898,.920,.879,.909,.926,.895,
  .888,.920,.933,.903,.926,.885,.914,.932,.901,
  .860,.836,.871,.850,.868,.833,.866,.848,
  .865,.841,.876,.855,.873,.838,.871,.853,
  .870,.847,.881,.860,.879,.843,.876,.859,
  .875,.852,.887,.865,.884,.848,.881,.864,
  .880,.857,.892,.870,.889,.854,.886,.869,
  .886,.862,.897,.876,.894,.859,.892,.874,
  .891,.867,.902,.881,.899,.864,.897,.879,
  .896,.873,.907,.886,.905,.869,.902,.885,
  .901,.878,.913,.891,.910,.874,.907,.890,
  .906,.883,.918,.896,.915,.880,.912,.895,
  .912,.888,.923,.902,.920,.885,.918,.900
];

// ---------------------------------------------------------------
// layout
// ---------------------------------------------------------------
const colLeft = [135, 505, 876];
const rowTop = [43.5, 442];
const plotW = 238, plotH = 263;
const ylabGap = [72, 71, 101];
const tagInset = [4, 5, 12];

const pointColor = "#a6a6a6";
const inkColor = "#111";

const properties = [
  { limits: brixLimits, ticks: brixTicks, fmt: d3.format("d"),
    obs: brixObserved, pred: [brixPlsr, brixSvr], ids: brixIds, shown: [brixShown, brixShown] },
  { limits: polLimits, ticks: polTicks, fmt: d3.format("d"),
    obs: polObserved, pred: [polPlsr, polSvr], ids: polIds, shown: [polPlsrShown, polSvrShown] },
  { limits: purityLimits, ticks: purityTicks, fmt: d3.format(".2f"),
    obs: purityObserved, pred: [purityPlsr, puritySvr], ids: purityIds, shown: [purityPlsrShown, puritySvrShown] }
];
const fits = [
  { a: plsrFitIntercepts, b: plsrFitSlopes },
  { a: svrFitIntercepts, b: svrFitSlopes }
];

const svg = d3.select("#fig");
const defs = svg.append("defs");

properties.forEach((prop, c) => {
  modelNames.forEach((model, r) => {
    const L = colLeft[c], T = rowTop[r], R = L + plotW, B = T + plotH;
    const x = d3.scaleLinear().domain(prop.limits).range([L, R]);
    const y = d3.scaleLinear().domain(prop.limits).range([B, T]);
    const clipId = `clip-${r}-${c}`;
    defs.append("clipPath").attr("id", clipId)
      .append("rect").attr("x", L).attr("y", T).attr("width", plotW).attr("height", plotH);

    const g = svg.append("g");

    // dotted grid
    const grid = g.append("g").attr("clip-path", `url(#${clipId})`)
      .attr("stroke", "#cfcfcf").attr("stroke-width", 1).attr("stroke-dasharray", "2.5,3.5");
    grid.selectAll("line.v").data(prop.ticks).join("line").attr("class", "v")
      .attr("x1", d => x(d)).attr("x2", d => x(d)).attr("y1", T).attr("y2", B);
    grid.selectAll("line.h").data(prop.ticks).join("line").attr("class", "h")
      .attr("x1", L).attr("x2", R).attr("y1", d => y(d)).attr("y2", d => y(d));

    // observed vs predicted points
    const pred = prop.pred[r];
    const idx = d3.range(Math.min(prop.obs.length, pred.length));
    g.append("g").attr("clip-path", `url(#${clipId})`)
      .selectAll("circle").data(idx).join("circle")
      .attr("cx", i => x(prop.obs[i])).attr("cy", i => y(pred[i])).attr("r", 4.5)
      .attr("fill", "none").attr("stroke", pointColor).attr("stroke-width", 1.45);

    // 1:1 line and fitted line
    const lines = g.append("g").attr("clip-path", `url(#${clipId})`)
      .attr("stroke", "#000").attr("fill", "none");
    const [d0, d1] = prop.limits;
    lines.append("line")
      .attr("x1", x(d0)).attr("y1", y(d0)).attr("x2", x(d1)).attr("y2", y(d1))
      .attr("stroke-width", 1).attr("stroke-dasharray", "6,5");
    const a = fits[r].a[c], b = fits[r].b[c];
    lines.append("line")
      .attr("x1", x(d0)).attr("y1", y(a + b * d0)).attr("x2", x(d1)).attr("y2", y(a + b * d1))
      .attr("stroke-width", 1);

    // sample labels
    const shown = prop.shown[r];
    g.append("g").selectAll("text").data(shown).join("text")
      .attr("x", id => x(prop.obs[prop.ids.indexOf(id)]) + 7)
      .attr("y", id => y(pred[prop.ids.indexOf(id)]) + 11)
      .attr("text-anchor", "middle").attr("dominant-baseline", "central")
      .attr("font-size", 16).attr("font-weight", "bold").attr("fill", "#1a1a1a")
      .text(id => id);

    // axes
    const xAxis = g.append("g").attr("transform", `translate(0,${B})`)
      .call(d3.axisBottom(x).tickValues(prop.ticks).tickSize(16).tickFormat(prop.fmt));
    xAxis.select(".domain").remove();
    xAxis.selectAll(".tick line").attr("stroke", "#000").attr("stroke-width", 1.3);
    xAxis.selectAll(".tick text")
      .attr("x", null).attr("y", null).attr("dy", null)
      .attr("transform", "translate(-2,31) rotate(-45)")
      .attr("text-anchor", "end").attr("dominant-baseline", "central")
      .attr("font-size", 26).attr("fill", inkColor)
      .style("font-family", '"Liberation Sans", Arial, sans-serif');

    const yAxis = g.append("g").attr("transform", `translate(${L},0)`)
      .call(d3.axisLeft(y).tickValues(prop.ticks).tickSize(16).tickPadding(16).tickFormat(prop.fmt));
    yAxis.select(".domain").remove();
    yAxis.selectAll(".tick line").attr("stroke", "#000").attr("stroke-width", 1.3);
    yAxis.selectAll(".tick text").attr("dy", null).attr("dominant-baseline", "central")
      .attr("font-size", 26).attr("fill", inkColor)
      .style("font-family", '"Liberation Sans", Arial, sans-serif');

    // frame
    g.append("rect").attr("x", L).attr("y", T).attr("width", plotW).attr("height", plotH)
      .attr("fill", "none").attr("stroke", "#000").attr("stroke-width", 1.5);

    // panel tag
    g.append("text").attr("x", L + tagInset[c]).attr("y", T + 36)
      .attr("dominant-baseline", "central").attr("font-size", 25).attr("fill", inkColor)
      .text(panelTags[r][c]);

    // axis titles
    g.append("text").attr("x", (L + R) / 2).attr("y", B + 90)
      .attr("text-anchor", "middle").attr("font-size", 26).attr("fill", inkColor)
      .text("Observed");
    g.append("text")
      .attr("transform", `translate(${L - ylabGap[c]},${(T + B) / 2}) rotate(-90)`)
      .attr("text-anchor", "middle").attr("font-size", 26).attr("fill", inkColor)
      .text("Predicted");

    // column titles on the top row
    if (r === 0) {
      g.append("text").attr("x", (L + R) / 2).attr("y", 37.5)
        .attr("text-anchor", "middle").attr("font-size", 30).attr("font-weight", "bold")
        .attr("fill", inkColor).text(propertyNames[c]);
    }
  });
});

// model names at the left of each row
modelNames.forEach((model, r) => {
  svg.append("text")
    .attr("transform", `translate(33,${rowTop[r] + plotH / 2 - 2}) rotate(-90)`)
    .attr("text-anchor", "middle").attr("font-size", 27).attr("font-weight", "bold")
    .attr("fill", inkColor).text(model);
});
</script>
</body>
</html>
